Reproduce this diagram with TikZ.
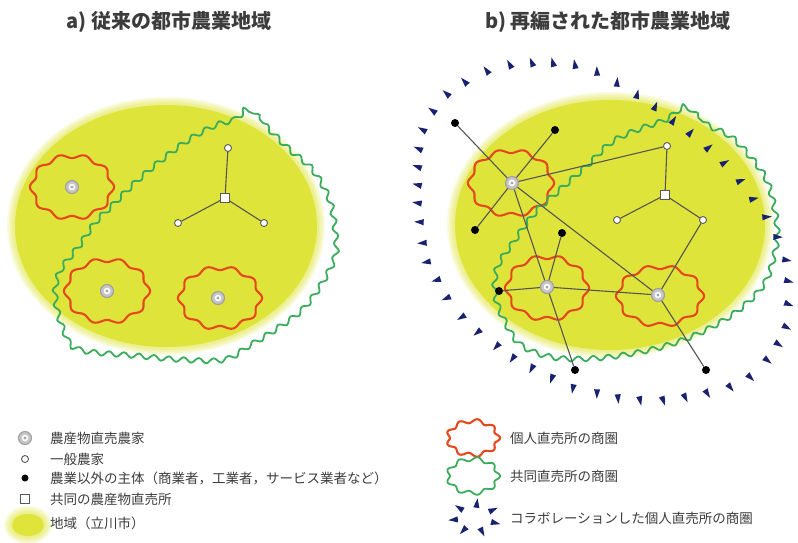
\documentclass[tikz,border=0pt]{standalone}
\usepackage{fontspec}
\setmainfont{Noto Sans CJK JP}
\usetikzlibrary{decorations.pathmorphing}
\definecolor{yel}{RGB}{222,228,58}
\definecolor{redo}{RGB}{228,72,28}
\definecolor{grn}{RGB}{58,172,92}
\definecolor{navyb}{RGB}{24,34,112}
\definecolor{edgec}{RGB}{85,85,85}
\definecolor{txt}{RGB}{60,60,60}
\newcommand\wavyblob[7]{%
  \draw[#7] plot[smooth cycle, domain=0:358, samples=180]
    ({#1+(#3+#6*cos(#5*\x))*cos(\x)},{#2+(#4+#6*cos(#5*\x))*sin(\x)});}
\newcommand\yelregion[4]{%
  \foreach \k in {1,...,5} {\fill[yel, opacity=0.16] (#1,#2) ellipse ({#3+1.6*\k pt} and {#4+1.6*\k pt});}
  \fill[yel] (#1,#2) ellipse (#3pt and #4pt);}
\newcommand\navytri[3]{%
  \fill[navyb, shift={(#1,#2)}] (#3:5.8) -- (#3+140:4.8) -- (#3-140:4.8) -- cycle;}
\begin{document}
\begin{tikzpicture}[x=1pt,y=-1pt,
  farm/.style={circle, minimum size=13pt, inner sep=0pt, fill=gray!45, draw=gray!75, line width=1.1pt,
    path picture={\fill[white] (path picture bounding box.center) circle (3.3pt);
                  \fill[gray!70] (path picture bounding box.center) circle (1.7pt);}},
  gen/.style={circle, minimum size=7pt, inner sep=0pt, fill=white, draw=gray!70!black, line width=0.9pt},
  other/.style={circle, minimum size=8pt, inner sep=0pt, fill=black},
  shop/.style={rectangle, minimum size=9pt, inner sep=0pt, fill=white, draw=gray!70!black, line width=0.9pt},
  link/.style={draw=edgec, line width=1.1pt},
  redblob/.style={draw=redo, line width=2.1pt},
  grnline/.style={draw=grn, line width=1.8pt, decorate, decoration={snake, segment length=15pt, amplitude=2.5pt}},
  grnblob/.style={draw=grn, line width=1.8pt},
  ttl/.style={font=\fontsize{20}{24}\selectfont\bfseries, text=txt},
  lgd/.style={font=\fontsize{13.5}{16}\selectfont, text=txt, anchor=west, inner sep=0pt}]
\useasboundingbox (0,0) rectangle (798,542);

% ---------- titles
\node[ttl] (ta) at (169,22) {a) 従来の都市農業地域};
\node[ttl] (tb) at (608,22) {b) 再編された都市農業地域};

% ---------- panel a
\yelregion{166}{226}{151}{121}
\wavyblob{72}{187}{40}{31}{10}{2.1}{redblob}
\wavyblob{107}{291}{41}{31}{10}{2.1}{redblob}
\wavyblob{220}{298}{40}{30}{10}{2.1}{redblob}
\draw[grnline] plot[smooth cycle, tension=0.6] coordinates {
 (247,106) (263,123) (287,147) (310,167) (327,197) (333,230) (333,253) (320,280) (300,307)
 (273,327) (247,343) (222,357) (180,357) (133,353) (77,347) (62,330) (53,297) (57,270)
 (77,243) (93,220) (110,203) (133,180) (160,157) (187,137) (213,123) (233,117)};

\node[farm] (af1) at (72,187) {};
\node[farm] (af2) at (107,291) {};
\node[farm] (af3) at (218,298) {};
\node[shop] (as) at (225,198) {};
\node[gen] (ac1) at (228,148) {};
\node[gen] (ac2) at (178,223) {};
\node[gen] (ac3) at (264,223) {};
\draw[link] (as) -- (ac1);
\draw[link] (as) -- (ac2);
\draw[link] (as) -- (ac3);

% ---------- panel b
\yelregion{610}{225}{155}{125}
\wavyblob{511}{183}{41}{32}{10}{2.1}{redblob}
\wavyblob{547}{288}{40}{31}{10}{2.1}{redblob}
\wavyblob{660}{296}{42}{29}{10}{2.1}{redblob}
\draw[grnline] plot[smooth cycle, tension=0.6] coordinates {
 (684,104) (703,122) (727,134) (745,152) (762,175) (770,200) (774,230) (770,257) (760,283)
 (735,308) (702,328) (667,342) (630,351) (590,356) (550,355) (518,343) (502,320) (492,293)
 (494,265) (510,240) (532,210) (557,187) (585,162) (608,140) (635,127) (663,117)};

\foreach \px/\py in {510/65,532/63,553/63,575/65,597/72,617/83,637/95,655/107,673/121,690/133,
  708/148,724/163,740/181,753/199,766/217,777/237,786/260,788/281,788/304,786/327,778/344,
  767/360,750/377,730/387,707/393,685/397,663/400,640/400,618/398,597/393,573/388,552/378,
  532/368,513/358,497/346,478/332,462/317,447/298,437/280,427/262,423/243,420/222,418/203,
  418/185,418/167,419/149,423/130,433/111,447/94,465/82,487/71} {
  \pgfmathsetmacro\ang{atan2(\py-231,\px-603)}
  \navytri{\px}{\py}{\ang}
}

\node[farm] (bf1) at (512,183) {};
\node[farm] (bf2) at (547,287) {};
\node[farm] (bf3) at (658,295) {};
\node[shop] (bs) at (665,195) {};
\node[gen] (bc1) at (667,146) {};
\node[gen] (bc2) at (617,220) {};
\node[gen] (bc3) at (703,220) {};
\node[other] (bo1) at (455,123) {};
\node[other] (bo2) at (555,130) {};
\node[other] (bo3) at (475,230) {};
\node[other] (bo4) at (562,233) {};
\node[other] (bo5) at (499,291) {};
\node[other] (bo6) at (575,370) {};
\node[other] (bo7) at (706,370) {};
\foreach \a/\b in {bf1/bo1,bf1/bo2,bf1/bo3,bf1/bc1,bf1/bf2,bf1/bf3,bf2/bo4,bf2/bo5,bf2/bo6,
  bf2/bf3,bf3/bc3,bf3/bo7,bs/bc1,bs/bc2,bs/bc3} {\draw[link] (\a) -- (\b);}

% ---------- legend left
\node[farm] (lf) at (25,438) {};
\node[lgd] (lft) at (50,438) {農産物直売農家};
\node[gen] (lc) at (25,459) {};
\node[lgd] (lct) at (50,459) {一般農家};
\node[other, minimum size=7pt] (lo) at (25,478) {};
\node[lgd] (lot) at (50,478) {農業以外の主体（商業者，工業者，サービス業者など）};
\node[shop] (ls) at (25,499) {};
\node[lgd] (lst) at (50,499) {共同の農産物直売所};
\yelregion{28}{525}{16}{11}
\node[lgd] (lyt) at (50,523) {地域（立川市）};

% ---------- legend right
\wavyblob{473}{438}{25}{17}{9}{2}{redblob}
\node[lgd] (lrt) at (510,438) {個人直売所の商圏};
\wavyblob{473}{476}{25}{17}{9}{2}{grnblob}
\node[lgd] (lgt) at (510,476) {共同直売所の商圏};
\foreach \t in {0,51,...,306} {
  \pgfmathsetmacro\px{475+21*cos(\t+20)}
  \pgfmathsetmacro\py{518+14*sin(\t+20)}
  \pgfmathsetmacro\ang{atan2(\py-518,\px-475)}
  \navytri{\px}{\py}{\ang}
}
\node[lgd] (lbt) at (510,518) {コラボレーションした個人直売所の商圏};
\end{tikzpicture}
\end{document}
